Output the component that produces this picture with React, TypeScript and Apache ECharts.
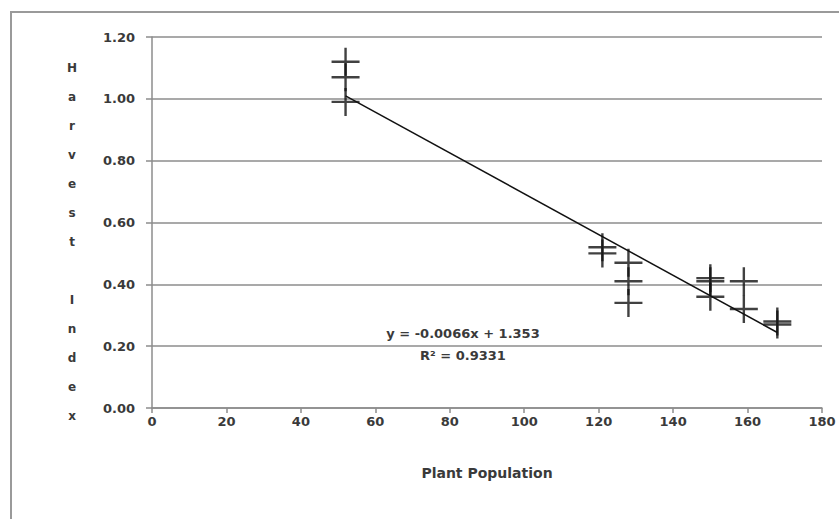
import React, { useEffect, useRef } from "react";
import * as echarts from "echarts";

// Data
const plantPopulation = [52, 52, 52, 121, 121, 128, 128, 128, 150, 150, 150, 159, 159, 168, 168];
const harvestIndex = [1.12, 1.07, 0.99, 0.52, 0.5, 0.47, 0.41, 0.34, 0.42, 0.41, 0.36, 0.41, 0.32, 0.28, 0.27];

// Linear trend line (as stated in the chart)
const trendSlope = -0.0066;
const trendIntercept = 1.353;
const trendXRange = [52, 168];
const equationLines = ["y = -0.0066x + 1.353", "R² = 0.9331"];

// Axes
const xAxisTitle = "Plant Population";
const yAxisTitle = "Harvest Index";
const xMin = 0;
const xMax = 180;
const xStep = 20;
const yMin = 0;
const yMax = 1.2;
const yStep = 0.2;

const FONT = "'DejaVu Sans', 'Open Sans', sans-serif";
const TEXT_COLOR = "#3a3a3a";

export default function App() {
  const ref = useRef<HTMLDivElement>(null);

  useEffect(() => {
    if (!ref.current) return;
    const chart = echarts.init(ref.current, undefined, { renderer: "svg" });

    const scatterData = plantPopulation.map((x, i) => [x, harvestIndex[i]]);
    const trendData = trendXRange.map((x) => [x, trendIntercept + trendSlope * x]);

    const verticalTitle = yAxisTitle.split("").join("\n");

    const plusPath = "path://M12.8,0 H15.2 V28 H12.8 Z M0,12.8 H28 V15.2 H0 Z";

    chart.setOption({
      animation: false,
      backgroundColor: "#ffffff",
      grid: { left: 152, right: 17, top: 37, bottom: 111, containLabel: false },
      xAxis: {
        type: "value",
        min: xMin,
        max: xMax,
        interval: xStep,
        name: xAxisTitle,
        nameLocation: "middle",
        nameGap: 58,
        nameTextStyle: { fontFamily: FONT, fontSize: 14, fontWeight: "bold", color: TEXT_COLOR },
        axisLine: { show: true, lineStyle: { color: "#8c8c8c", width: 1.5 } },
        axisTick: { show: true, inside: false, length: 5, lineStyle: { color: "#8c8c8c", width: 1.5 } },
        axisLabel: {
          margin: 7,
          fontFamily: FONT,
          fontSize: 13,
          fontWeight: "bold",
          color: TEXT_COLOR,
          formatter: (v: number) => String(v),
        },
        splitLine: { show: false },
      },
      yAxis: {
        type: "value",
        min: yMin,
        max: yMax,
        interval: yStep,
        axisLine: { show: true, lineStyle: { color: "#8c8c8c", width: 1.5 } },
        axisTick: { show: true, inside: false, length: 6, lineStyle: { color: "#8c8c8c", width: 1.5 } },
        axisLabel: {
          margin: 17,
          fontFamily: FONT,
          fontSize: 13,
          fontWeight: "bold",
          color: TEXT_COLOR,
          formatter: (v: number) => v.toFixed(2),
        },
        splitLine: { show: true, lineStyle: { color: "#8c8c8c", width: 1.5 } },
      },
      series: [
        {
          name: "Harvest Index",
          type: "scatter",
          data: scatterData,
          symbol: plusPath,
          symbolSize: 28,
          itemStyle: { color: "#111111" },
          z: 3,
        },
        {
          name: "Linear trend",
          type: "line",
          data: trendData,
          showSymbol: false,
          symbol: "none",
          lineStyle: { color: "#111111", width: 1.5 },
          z: 4,
        },
      ],
      graphic: [
        {
          type: "rect",
          shape: { x: 11, y: 12, width: 860, height: 540 },
          style: { fill: "none", stroke: "#9a9a9a", lineWidth: 2 },
          z: -1,
          silent: true,
        },
        {
          type: "text",
          x: 72,
          y: 242,
          style: {
            text: verticalTitle,
            fontFamily: FONT,
            fontSize: 12,
            fontWeight: "bold",
            lineHeight: 29,
            fill: TEXT_COLOR,
            align: "center",
            verticalAlign: "middle",
          },
        },
        {
          type: "text",
          x: 463,
          y: 333,
          style: {
            text: equationLines[0],
            fontFamily: FONT,
            fontSize: 13,
            fontWeight: "bold",
            fill: TEXT_COLOR,
            align: "center",
            verticalAlign: "middle",
          },
          z: 10,
        },
        {
          type: "text",
          x: 463,
          y: 355,
          style: {
            text: equationLines[1],
            fontFamily: FONT,
            fontSize: 13,
            fontWeight: "bold",
            fill: TEXT_COLOR,
            align: "center",
            verticalAlign: "middle",
          },
          z: 10,
        },
      ],
    });

    return () => {
      chart.dispose();
    };
  }, []);

  return (
    <div
      ref={ref}
      style={{ position: "fixed", left: 0, top: 0, width: 839, height: 519, background: "#fff" }}
    />
  );
}
